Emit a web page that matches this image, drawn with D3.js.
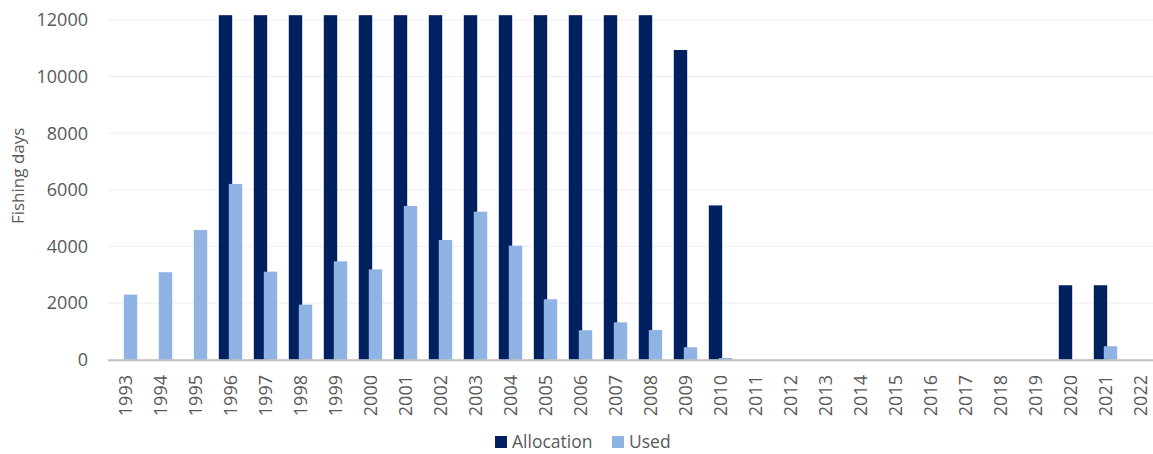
<!DOCTYPE html>
<html>
<head>
<meta charset="utf-8">
<script src="https://cdn.jsdelivr.net/npm/d3@7"></script>
<style>
    body { margin: 0; background: #fff; }
    svg text { font-family: "Open Sans", "Noto Sans", sans-serif; fill: #595959; }
</style>
</head>
<body>
<svg id="chart" width="1153" height="454"></svg>
<script>
const years = d3.range(1993, 2023).map(String);
// allocation above 12000 is off the chart in the source, bars just run past the top
const allocation = [0, 0, 0, 15000, 15000, 15000, 15000, 15000, 15000, 15000, 15000, 15000, 15000, 15000, 15000, 15000,
    10940, 5450, 0, 0, 0, 0, 0, 0, 0, 0, 0, 2630, 2630, 0];
const used = [2300, 3090, 4580, 6210, 3110, 1945, 3475, 3190, 5430, 4230, 5230, 4030, 2135, 1040, 1320, 1050,
    440, 60, 0, 0, 0, 0, 0, 0, 0, 0, 0, 0, 475, 0];
const yTicks = [0, 2000, 4000, 6000, 8000, 10000, 12000];
const seriesNames = ["Allocation", "Used"];
const colors = ["#002060", "#8FB4E3"];

const svg = d3.select("#chart");
const plotLeft = 108, plotRight = 1158, plotTop = 20, plotBottom = 359.7;
const capValue = 12170;

const x = d3.scaleBand().domain(years).range([plotLeft, plotRight]);
const y = d3.scaleLinear().domain([0, 12000]).range([plotBottom, plotTop]);
const step = x.step();
const barW = step * 0.383;
const shift = step * 0.286;

// gridlines
svg.append("g").selectAll("line")
    .data(yTicks.filter(d => d > 0))
    .join("line")
    .attr("x1", plotLeft).attr("x2", plotRight)
    .attr("y1", d => y(d)).attr("y2", d => y(d))
    .attr("stroke", "#eeeeee").attr("stroke-width", 1);

// y labels
svg.append("g").selectAll("text")
    .data(yTicks)
    .join("text")
    .attr("x", 88)
    .attr("y", d => y(d))
    .attr("dy", "0.35em")
    .attr("text-anchor", "end")
    .style("font-size", "18px")
    .text(d => d);

svg.append("text")
    .attr("transform", `translate(24,${(plotTop + plotBottom) / 2 - 14}) rotate(-90)`)
    .attr("text-anchor", "middle")
    .style("font-size", "17px")
    .text("Fishing days");

const bars = svg.append("g");
const barX0 = d => x(d) + step / 2 - (barW + shift) / 2;

bars.selectAll("rect.alloc")
    .data(years.map((yr, i) => ({ yr, v: allocation[i] })).filter(d => d.v > 0))
    .join("rect")
    .attr("class", "alloc")
    .attr("x", d => barX0(d.yr))
    .attr("width", barW)
    .attr("y", d => y(Math.min(d.v, capValue)))
    .attr("height", d => plotBottom - y(Math.min(d.v, capValue)))
    .attr("fill", colors[0]);

bars.selectAll("rect.used")
    .data(years.map((yr, i) => ({ yr, v: used[i] })).filter(d => d.v > 0))
    .join("rect")
    .attr("class", "used")
    .attr("x", d => barX0(d.yr) + shift)
    .attr("width", barW)
    .attr("y", d => y(d.v))
    .attr("height", d => plotBottom - y(d.v))
    .attr("fill", colors[1]);

// baseline
svg.append("line")
    .attr("x1", plotLeft).attr("x2", plotRight)
    .attr("y1", plotBottom + 0.5).attr("y2", plotBottom + 0.5)
    .attr("stroke", "#bfbfbf").attr("stroke-width", 2);

// x labels
svg.append("g").selectAll("text")
    .data(years)
    .join("text")
    .attr("transform", d => `translate(${x(d) + step / 2},375) rotate(-90)`)
    .attr("dy", "0.35em")
    .attr("text-anchor", "end")
    .style("font-size", "18px")
    .text(d => d);

// legend
const legend = svg.append("g").attr("transform", "translate(495,442)");
const legendX = [0, 117];
seriesNames.forEach((name, i) => {
    const g = legend.append("g").attr("transform", `translate(${legendX[i]},0)`);
    g.append("rect").attr("x", 0).attr("y", -6).attr("width", 12).attr("height", 12).attr("fill", colors[i]);
    g.append("text").attr("x", 17).attr("dy", "0.35em").style("font-size", "17.5px").text(name);
});
</script>
</body>
</html>
